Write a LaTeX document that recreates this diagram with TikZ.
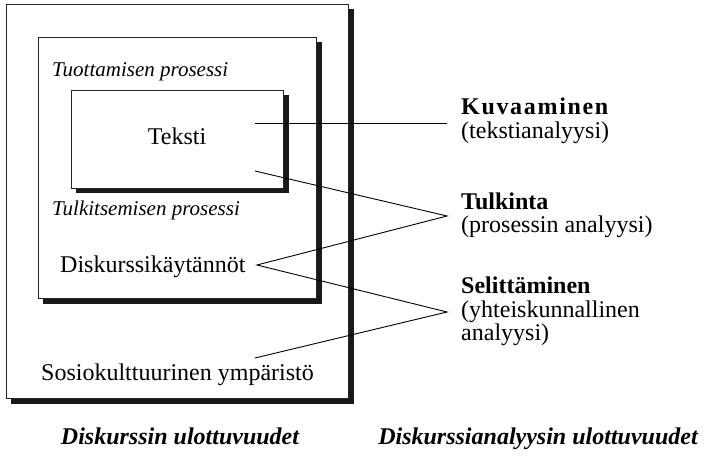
\documentclass[tikz,border=0pt]{standalone}
\usepackage{fontspec}
\setmainfont{Liberation Serif}
\begin{document}
\begin{tikzpicture}[x=1pt,y=-1pt,
  box/.style={draw=black!85,line width=0.9pt,fill=white},
  shadowbox/.style={fill=black!90,draw=none},
  lbl/.style={inner sep=0pt,anchor=base west,font=\fontsize{24}{26}\selectfont},
  ital/.style={inner sep=0pt,anchor=base west,font=\fontsize{21}{23}\selectfont\itshape},
  head/.style={inner sep=0pt,anchor=base west,font=\fontsize{24}{26}\selectfont\bfseries},
  foot/.style={inner sep=0pt,anchor=base,font=\fontsize{24}{26}\selectfont\bfseries\itshape},
  conn/.style={line width=0.9pt,black}]
\useasboundingbox (0,0) rectangle (704,457);
% outer box
\fill[shadowbox] (11,9) rectangle (354,404);
\draw[box] (6,4) rectangle (348,398);
% middle box
\fill[shadowbox] (43,42) rectangle (322,304);
\draw[box] (38,37) rectangle (316,298);
% inner box
\fill[shadowbox] (76,95) rectangle (289,193);
\draw[box] (71,90) rectangle (283,188);
% texts
\node[ital] (tuot) at (52,77) {Tuottamisen prosessi};
\node[lbl,anchor=base] (teksti) at (177,145) {Teksti};
\node[ital] (tulk) at (52,215) {Tulkitsemisen prosessi};
\node[lbl] (disk) at (60,272) {Diskurssikäytännöt};
\node[lbl] (sosio) at (41,380) {Sosiokulttuurinen ympäristö};
\node[head,font=\fontsize{24}{26}\selectfont\bfseries\addfontfeature{LetterSpace=7}] (kuv) at (461,115) {Kuvaaminen};
\node[lbl] (kuv2) at (461,139) {(tekstianalyysi)};
\node[head] (tulkinta) at (461,210) {Tulkinta};
\node[lbl] (tulkinta2) at (461,233) {(prosessin analyysi)};
\node[head] (sel) at (461,293) {Selittäminen};
\node[lbl] (sel2) at (461,317) {(yhteiskunnallinen};
\node[lbl] (sel3) at (461,340) {analyysi)};
\node[foot] (f1) at (180,444) {Diskurssin ulottuvuudet};
\node[foot] (f2) at (538,444) {Diskurssianalyysin ulottuvuudet};
% connector points
\coordinate (tA) at (255,123);
\coordinate (tB) at (255,171);
\coordinate (dA) at (257,265);
\coordinate (sA) at (255,358);
\coordinate (kP) at (447,123);
\coordinate (tP) at (447,216);
\coordinate (sP) at (447,312);
\draw[conn] (tA) -- (kP);
\draw[conn] (tB) -- (tP) -- (dA) -- (sP) -- (sA);
\end{tikzpicture}
\end{document}
